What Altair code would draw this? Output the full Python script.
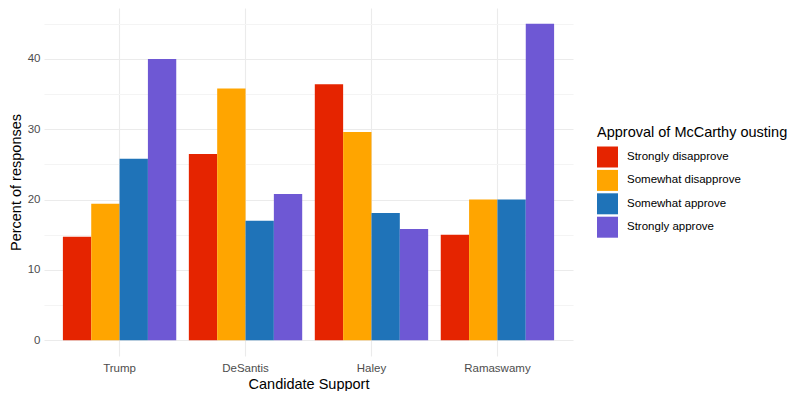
import altair as alt
import pandas as pd

candidates = ["Trump", "DeSantis", "Haley", "Ramaswamy"]
approval = ["Strongly disapprove", "Somewhat disapprove", "Somewhat approve", "Strongly approve"]
strongly_disapprove = [14.7, 26.5, 36.4, 15.0]
somewhat_disapprove = [19.4, 35.8, 29.6, 20.0]
somewhat_approve = [25.8, 17.0, 18.1, 20.0]
strongly_approve = [40.0, 20.8, 15.8, 45.0]
colors = ["#E52400", "#FFA500", "#1F73B8", "#6E58D4"]
y_ticks = [0, 5, 10, 15, 20, 25, 30, 35, 40, 45]

series = [strongly_disapprove, somewhat_disapprove, somewhat_approve, strongly_approve]
rows = []
for a, vals in zip(approval, series):
    for c, v in zip(candidates, vals):
        rows.append({"Candidate": c, "Approval": a, "Percent": v})
df = pd.DataFrame(rows)

font = "Liberation Sans"

chart = alt.Chart(df).mark_bar().encode(
    x=alt.X("Candidate:N", sort=candidates,
            scale=alt.Scale(paddingInner=0.1, paddingOuter=0.15),
            axis=alt.Axis(title="Candidate Support", labelAngle=0, ticks=False, domain=False,
                          grid=True, bandPosition=0.5, gridColor="#ebebeb", gridWidth=1.1,
                          labelPadding=6, titlePadding=4)),
    xOffset=alt.XOffset("Approval:N", sort=approval),
    y=alt.Y("Percent:Q",
            scale=alt.Scale(domain=[-2.25, 47.25], nice=False, zero=False),
            axis=alt.Axis(title="Percent of responses", values=y_ticks, ticks=False, domain=False,
                          labelExpr="datum.value % 10 === 0 ? datum.label : ''",
                          gridColor={"condition": {"test": "datum.value % 10 === 0", "value": "#ebebeb"},
                                     "value": "#f4f4f4"},
                          gridWidth=1.1, labelPadding=4, titlePadding=4)),
    color=alt.Color("Approval:N", sort=approval,
                    scale=alt.Scale(domain=approval, range=colors),
                    legend=alt.Legend(title="Approval of McCarthy ousting", orient="none",
                                      legendX=553, legendY=118)),
).properties(
    width=529, height=348,
    autosize=alt.AutoSizeParams(type="none"),
    padding={"left": 36, "top": 0, "right": 222, "bottom": 35},
).configure_view(
    stroke=None
).configure_axis(
    labelFont=font, titleFont=font, labelFontSize=11.5, labelColor="#4d4d4d",
    titleFontSize=14.5, titleColor="#000000", titleFontWeight="normal"
).configure_legend(
    titleFont=font, labelFont=font, titleFontSize=14.5, titleFontWeight="normal", titleColor="#000000",
    titleLimit=300, labelLimit=300,
    labelFontSize=11.5, labelColor="#000000", symbolType="square", symbolSize=441,
    symbolStrokeWidth=0, symbolOpacity=1, rowPadding=2.4, titlePadding=6, labelOffset=9
)

chart.save("out.html", embed_options={"renderer": "svg", "actions": False})
